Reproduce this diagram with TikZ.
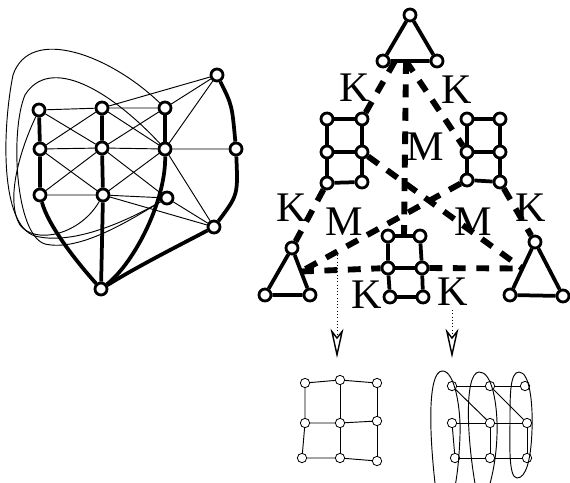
\documentclass[tikz,border=0pt]{standalone}
\usepackage{fontspec}
\setmainfont{Liberation Serif}
\usetikzlibrary{arrows.meta, positioning, calc}

\tikzset{
  vtx/.style={circle, draw, line width=2.4pt, inner sep=0pt, minimum size=0.36cm},
  svtx/.style={circle, draw, line width=0.7pt, inner sep=0pt, minimum size=0.28cm},
  thinedge/.style={line width=0.8pt},
  thickedge/.style={line width=3.2pt},
  dashedge/.style={line width=5pt, dash pattern=on 11pt off 9pt},
  gridedge/.style={line width=0.8pt},
  dotarrow/.style={line width=0.8pt, dotted, -{Stealth[open, length=25pt, width=11pt, inset=7pt, line width=1.2pt]}},
  lbl/.style={font=\fontsize{36}{38}\selectfont, inner sep=0pt}
}

\begin{document}
\begin{tikzpicture}[x=0.03cm, y=-0.03cm]
  \useasboundingbox (0,0) rectangle (570,482);

  %% left graph
  \node[vtx] (g11) at (39,110) {};
  \node[vtx] (g12) at (102,108) {};
  \node[vtx] (g13) at (165,108) {};
  \node[vtx] (g21) at (40,149) {};
  \node[vtx] (g22) at (102,148) {};
  \node[vtx] (g23) at (165,149) {};
  \node[vtx] (g24) at (236,149) {};
  \node[vtx] (g31) at (40,195) {};
  \node[vtx] (g32) at (103,195) {};
  \node[vtx] (g33) at (167,198) {};
  \node[vtx] (gtop) at (217,75) {};
  \node[vtx] (glow) at (214,227) {};
  \node[vtx] (gbot) at (101,289) {};

  \draw[thinedge] (g11) -- (g12) -- (g13);
  \draw[thinedge] (g21) -- (g22) -- (g23) -- (g24);
  \draw[thinedge] (g31) -- (g32) -- (g33);
  \draw[thinedge] (g11) -- (g22) -- (g33);
  \draw[thinedge] (g12) -- (g21);
  \draw[thinedge] (g12) -- (g23) -- (g32);
  \draw[thinedge] (g13) -- (g22) -- (g31);
  \draw[thinedge] (g21) -- (g32);
  \draw[thinedge] (gtop) -- (g12);
  \draw[thinedge] (gtop) -- (g13);
  \draw[thinedge] (gtop) -- (g23);
  \draw[thinedge] (glow) -- (g23);
  \draw[thinedge] (glow) -- (g32);
  \draw[thinedge] (glow) -- (g33);
  % wrap-around curves
  \draw[thinedge] (g13) .. controls (110,55) and (30,25) .. (13,75)
    .. controls (2,130) and (0,225) .. (35,236)
    .. controls (70,245) and (120,225) .. (g33);
  \draw[thinedge] (g23) .. controls (110,90) and (50,55) .. (25,95)
    .. controls (10,130) and (15,235) .. (45,244)
    .. controls (80,252) and (130,220) .. (g33);
  \draw[thinedge] (g11) .. controls (20,150) and (5,200) .. (20,225)
    .. controls (35,245) and (80,235) .. (g32);

  \draw[thickedge] (g11) -- (g21) -- (g31);
  \draw[thickedge] (g31) .. controls (48,225) and (75,260) .. (gbot);
  \draw[thickedge] (g12) -- (g22) -- (g32) -- (gbot);
  \draw[thickedge] (g13) -- (g23);
  \draw[thickedge] (g23) .. controls (166,200) and (135,262) .. (gbot);
  \draw[thickedge] (gtop) .. controls (232,105) .. (g24);
  \draw[thickedge] (g24) .. controls (238,195) .. (glow);
  \draw[thickedge] (glow) .. controls (180,245) and (140,265) .. (gbot);

  %% right structure
  \node[vtx] (ta) at (410,15) {};
  \node[vtx] (tb) at (383,61) {};
  \node[vtx] (tc) at (437,61) {};
  \draw[thickedge] (ta) -- (tb) -- (tc) -- (ta);

  \node[vtx] (L11) at (327,119) {};
  \node[vtx] (L12) at (362,119) {};
  \node[vtx] (L21) at (327,152) {};
  \node[vtx] (L22) at (362,152) {};
  \node[vtx] (L31) at (327,183) {};
  \node[vtx] (L32) at (362,182) {};
  \draw[thickedge] (L11) -- (L21) -- (L31);
  \draw[thickedge] (L12) -- (L22) -- (L32);
  \draw[thickedge] (L11) -- (L12);
  \draw[thickedge] (L21) -- (L22);
  \draw[thickedge] (L31) -- (L32);

  \node[vtx] (R11) at (467,119) {};
  \node[vtx] (R12) at (500,119) {};
  \node[vtx] (R21) at (467,152) {};
  \node[vtx] (R22) at (500,152) {};
  \node[vtx] (R31) at (467,180) {};
  \node[vtx] (R32) at (500,182) {};
  \draw[thickedge] (R11) -- (R21) -- (R31);
  \draw[thickedge] (R12) -- (R22) -- (R32);
  \draw[thickedge] (R11) -- (R12);
  \draw[thickedge] (R21) -- (R22);
  \draw[thickedge] (R31) -- (R32);

  \node[vtx] (C11) at (388,236) {};
  \node[vtx] (C12) at (420,236) {};
  \node[vtx] (C21) at (388,268) {};
  \node[vtx] (C22) at (422,268) {};
  \node[vtx] (C31) at (390,297) {};
  \node[vtx] (C32) at (423,297) {};
  \draw[thickedge] (C11) -- (C21) -- (C31);
  \draw[thickedge] (C12) -- (C22) -- (C32);
  \draw[thickedge] (C11) -- (C12);
  \draw[thickedge] (C21) -- (C22);
  \draw[thickedge] (C31) -- (C32);

  \node[vtx] (la) at (292,248) {};
  \node[vtx] (lb) at (265,295) {};
  \node[vtx] (lc) at (310,295) {};
  \draw[thickedge] (la) -- (lb) -- (lc) -- (la);

  \node[vtx] (ra) at (535,242) {};
  \node[vtx] (rb) at (510,295) {};
  \node[vtx] (rc) at (563,296) {};
  \draw[thickedge] (ra) -- (rb) -- (rc) -- (ra);

  \coordinate (tk) at (395,61);
  \coordinate (tm) at (406,61);
  \coordinate (cm) at ($(C11)!0.5!(C12)$);
  \coordinate (lm) at ($(la)!0.5!(lc)$);
  \coordinate (rm) at ($(ra)!0.5!(rb)$);

  \draw[dashedge] (tk) -- (L12);
  \draw[dashedge] (tm) -- (R21);
  \draw[dashedge] (tm) -- (cm);
  \draw[dashedge] (L22) -- (rm);
  \draw[dashedge] (R31) -- (lm);
  \draw[dashedge] (L31) -- (la);
  \draw[dashedge] (R32) -- (ra);
  \draw[dashedge] (lm) -- (C21);
  \draw[dashedge] (C22) -- (rm);

  \node[lbl] (k1) at (355,88) {K};
  \node[lbl] (k2) at (457,90) {K};
  \node[lbl] (m1) at (425,147) {M};
  \node[lbl] (k3) at (292,208) {K};
  \node[lbl] (m2) at (344,222) {M};
  \node[lbl] (m3) at (473,222) {M};
  \node[lbl] (k4) at (531,208) {K};
  \node[lbl] (k5) at (367,295) {K};
  \node[lbl] (k6) at (453,292) {K};

  %% arrows down
  \coordinate (s1) at (337,255);
  \coordinate (e1) at (337,358);
  \coordinate (s2) at (452,310);
  \coordinate (e2) at (452,358);
  \draw[dotarrow] (s1) -- (e1);
  \draw[dotarrow] (s2) -- (e2);

  %% bottom left grid
  \node[svtx] (m11) at (305,383) {};
  \node[svtx] (m12) at (340,380) {};
  \node[svtx] (m13) at (377,383) {};
  \node[svtx] (m21) at (305,423) {};
  \node[svtx] (m22) at (340,423) {};
  \node[svtx] (m23) at (377,421) {};
  \node[svtx] (m31) at (302,458) {};
  \node[svtx] (m32) at (340,458) {};
  \node[svtx] (m33) at (377,461) {};
  \draw[gridedge] (m11) -- (m12) -- (m13);
  \draw[gridedge] (m21) -- (m22) -- (m23);
  \draw[gridedge] (m31) -- (m32) -- (m33);
  \draw[gridedge] (m11) -- (m21) -- (m31);
  \draw[gridedge] (m12) -- (m22) -- (m32);
  \draw[gridedge] (m13) -- (m23) -- (m33);

  %% bottom right grid
  \node[svtx] (n11) at (452,386) {};
  \node[svtx] (n12) at (490,386) {};
  \node[svtx] (n13) at (525,386) {};
  \node[svtx] (n21) at (452,423) {};
  \node[svtx] (n22) at (490,423) {};
  \node[svtx] (n23) at (527,423) {};
  \node[svtx] (n31) at (455,458) {};
  \node[svtx] (n32) at (490,458) {};
  \node[svtx] (n33) at (527,458) {};
  \draw[gridedge] (n11) -- (n12) -- (n13);
  \draw[gridedge] (n11) -- (n22);
  \draw[gridedge] (n12) -- (n23);
  \draw[gridedge] (n21) -- (n22) -- (n23);
  \draw[gridedge] (n31) -- (n32) -- (n33);
  \draw[gridedge] (n21) -- (n31);
  \draw[gridedge] (n22) -- (n32);
  \draw[gridedge] (n23) -- (n33);

  \begin{scope}
    \clip (0,0) rectangle (570,482);
    \draw[gridedge] (437,500) .. controls (428,430) and (428,372) .. (442,371)
      .. controls (455,370) and (461,410) .. (460,435)
      .. controls (459,465) and (456,485) .. (452,500);
    \draw[gridedge] (478,500) .. controls (466,440) and (464,373) .. (479,372)
      .. controls (492,371) and (498,405) .. (497,435)
      .. controls (496,465) and (490,485) .. (485,500);
    \draw[gridedge] (517,478) .. controls (508,478) and (510,440) .. (510,420)
      .. controls (510,395) and (510,372) .. (519,372)
      .. controls (530,372) and (533,405) .. (532,430)
      .. controls (531,460) and (526,478) .. (517,478);
  \end{scope}
\end{tikzpicture}
\end{document}
